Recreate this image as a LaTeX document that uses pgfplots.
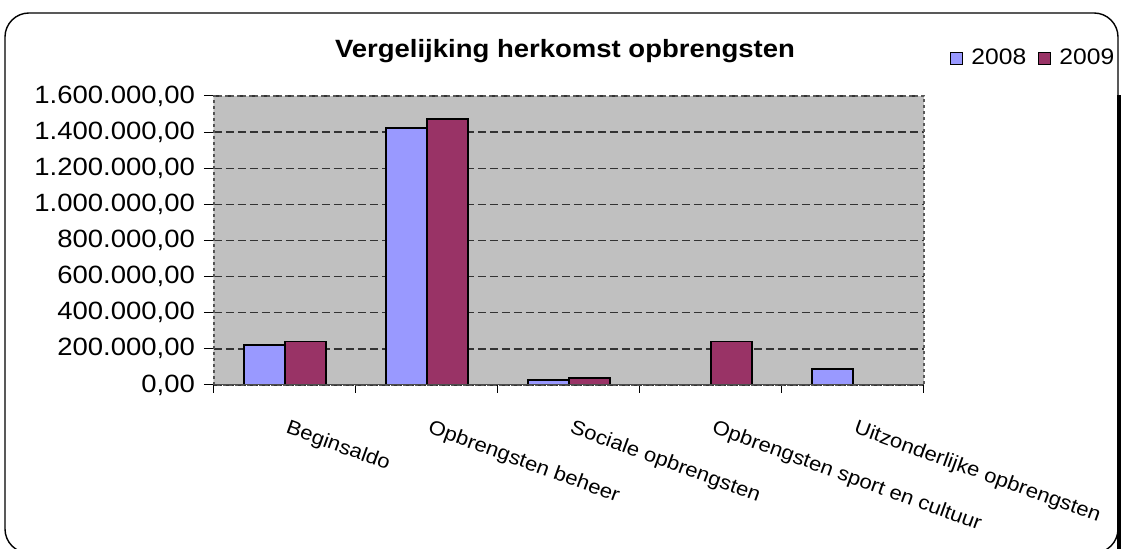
\documentclass[border=0pt]{standalone}
\usepackage{fontspec}
\setmainfont{Liberation Sans}[FakeStretch=1.1]
\usepackage{pgfplots}
\pgfplotsset{compat=1.18}
\definecolor{c2008}{HTML}{9999FF}
\definecolor{c2009}{HTML}{993366}
\definecolor{plotbg}{HTML}{C0C0C0}

\begin{document}
\begin{tikzpicture}
\path[use as bounding box] (-107pt,-82pt) rectangle (453.5pt,192.5pt);
\draw[line width=0.7pt, rounded corners=12pt] (-104.5pt,-84pt) rectangle (452pt,186pt);
\draw[line width=2.5pt] (452.5pt,-84pt) -- (452.5pt,145pt);
\begin{axis}[
    scale only axis,
    width=355pt, height=144.5pt,
    axis background/.style={fill=plotbg},
    ybar=0pt, bar width=20.5pt,
    xmin=-0.5, xmax=4.5,
    ymin=0, ymax=1600000,
    xtick={0,1,2,3,4},
    xticklabels={Beginsaldo, Opbrengsten beheer, Sociale opbrengsten, Opbrengsten sport en cultuur, Uitzonderlijke opbrengsten},
    minor xtick={-0.5,0.5,1.5,2.5,3.5,4.5},
    major x tick style={draw=none},
    minor tick length=4pt,
    major tick length=5pt,
    tick align=outside,
    xtick pos=bottom, ytick pos=left,
    tick style={black, line width=0.5pt},
    ytick={0,200000,...,1600000},
    scaled y ticks=false,
    ymajorgrids,
    major grid style={dash pattern=on 4pt off 2pt, draw=black!80, line width=0.7pt},
    axis line style={draw=gray!70!black, dash pattern=on 1.5pt off 1.5pt, line width=0.8pt},
    yticklabel style={font=\fontsize{12.5}{13}\selectfont, xshift=-1pt,
        /pgf/number format/.cd, fixed, fixed zerofill, precision=2, use comma, 1000 sep={.}, assume math mode=true},
    xticklabel style={font=\fontsize{10}{11}\selectfont, rotate=-20, anchor=north west, xshift=3pt, yshift=-7pt},
    title={Vergelijking herkomst opbrengsten},
    title style={font=\bfseries\fontsize{12.5}{14}\selectfont, at={(0.4944,1.114)}, anchor=center},
    legend style={at={(1.028,1.131)}, anchor=west, draw=none, fill=none, legend columns=2,
        font=\fontsize{11.2}{12}\selectfont,
        /tikz/every odd column/.append style={column sep=2pt},
        /tikz/every even column/.append style={column sep=4pt}},
]
\addplot[fill=c2008, draw=black, line width=0.8pt, legend image code/.code={\draw[fill=c2008, draw=black, line width=0.6pt] (0pt,-3pt) rectangle (6pt,3pt);}]
    coordinates {(0,221000) (1,1424000) (2,28000) (4,88000)};
\addlegendentry{2008}
\addplot[fill=c2009, draw=black, line width=0.8pt, legend image code/.code={\draw[fill=c2009, draw=black, line width=0.6pt] (0pt,-3pt) rectangle (6pt,3pt);}]
    coordinates {(0,240000) (1,1473000) (2,40000) (3,240000)};
\addlegendentry{2009}
\draw[black, line width=0.5pt] (rel axis cs:0,0) -- (rel axis cs:0,1);
\draw[black!70, line width=0.8pt] (rel axis cs:0,0) -- (rel axis cs:1,0);
\end{axis}
\end{tikzpicture}
\end{document}
